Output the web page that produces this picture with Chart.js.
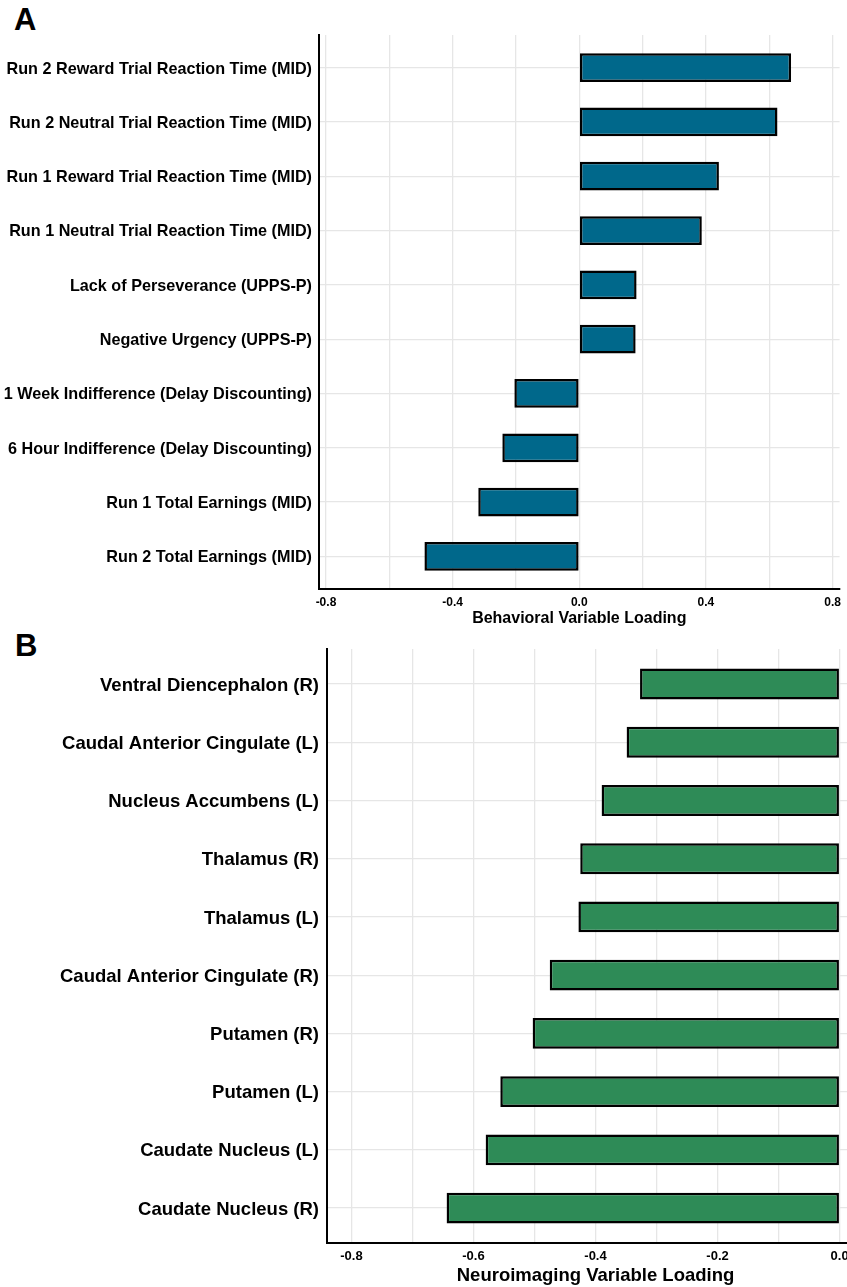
<!DOCTYPE html>
<html>
<head>
<meta charset="utf-8">
<title>Variable Loadings</title>
<script src="https://cdn.jsdelivr.net/npm/chart.js@4/dist/chart.umd.min.js"></script>
<style>
  html, body { margin: 0; padding: 0; background: #fff; }
  body { width: 847px; height: 1287px; overflow: hidden; position: relative; }
  .panel { position: absolute; left: 0; }
  .tag { position: absolute; font: bold 31px "Liberation Sans", Arial, Helvetica, sans-serif; color: #000; line-height: 1; }
</style>
</head>
<body>
<div class="tag" style="left:14px; top:4px;">A</div>
<div class="tag" style="left:15px; top:630px;">B</div>
<div class="panel" style="top:0; width:847px; height:630px;"><canvas id="chartA"></canvas></div>
<div class="panel" style="top:630px; width:880px; height:657px;"><canvas id="chartB"></canvas></div>

<script>
// Panel A: behavioral variables (listed top to bottom)
const behaviorCategories = [
  'Run 2 Reward Trial Reaction Time (MID)',
  'Run 2 Neutral Trial Reaction Time (MID)',
  'Run 1 Reward Trial Reaction Time (MID)',
  'Run 1 Neutral Trial Reaction Time (MID)',
  'Lack of Perseverance (UPPS-P)',
  'Negative Urgency (UPPS-P)',
  '1 Week Indifference (Delay Discounting)',
  '6 Hour Indifference (Delay Discounting)',
  'Run 1 Total Earnings (MID)',
  'Run 2 Total Earnings (MID)'
];
const behaviorLoadings = [0.669, 0.626, 0.441, 0.387, 0.181, 0.178, -0.205, -0.243, -0.319, -0.489];
const behaviorGridTicks = [-0.8, -0.6, -0.4, -0.2, 0.0, 0.2, 0.4, 0.6, 0.8];
const behaviorTickLabels = [-0.8, -0.4, 0.0, 0.4, 0.8];

// Panel B: neuroimaging variables (listed top to bottom)
const imagingCategories = [
  'Ventral Diencephalon (R)',
  'Caudal Anterior Cingulate (L)',
  'Nucleus Accumbens (L)',
  'Thalamus (R)',
  'Thalamus (L)',
  'Caudal Anterior Cingulate (R)',
  'Putamen (R)',
  'Putamen (L)',
  'Caudate Nucleus (L)',
  'Caudate Nucleus (R)'
];
const imagingLoadings = [-0.327, -0.349, -0.390, -0.425, -0.428, -0.475, -0.503, -0.556, -0.580, -0.644];
const imagingGridTicks = [-0.8, -0.7, -0.6, -0.5, -0.4, -0.3, -0.2, -0.1, 0.0];
const imagingTickLabels = [-0.8, -0.6, -0.4, -0.2, 0.0];

const FONT = '"Liberation Sans", Arial, Helvetica, sans-serif';
const GRID = '#e6e6e6';

function loadingChart(id, cfg) {
  const cats = cfg.categories;
  return new Chart(document.getElementById(id), {
    type: 'bar',
    data: {
      datasets: [{
        data: cfg.values.map((v, i) => ({ x: v, y: i + 1 })),
        backgroundColor: cfg.color,
        borderColor: '#000',
        borderWidth: 2.5,
        borderSkipped: false,
        barPercentage: 0.53,
        categoryPercentage: 1
      }]
    },
    options: {
      indexAxis: 'y',
      responsive: true,
      maintainAspectRatio: false,
      animation: false,
      layout: { padding: cfg.padding },
      plugins: { legend: { display: false }, tooltip: { enabled: false } },
      scales: {
        x: {
          type: 'linear',
          min: cfg.xMin,
          max: cfg.xMax,
          afterBuildTicks: s => { s.ticks = cfg.gridTicks.map(v => ({ value: v })); },
          afterFit: s => { s.height = cfg.xHeight; },
          grid: { color: GRID, lineWidth: 1.3, drawTicks: false },
          border: { display: true, color: '#000', width: 2 },
          ticks: {
            autoSkip: false,
            maxRotation: 0,
            padding: cfg.xTickPad,
            color: '#000',
            font: { family: FONT, size: cfg.xTickSize, weight: 'bold' },
            callback: v => cfg.tickLabels.some(t => Math.abs(t - v) < 1e-9) ? v.toFixed(1) : ''
          },
          title: {
            display: true,
            text: cfg.xTitle,
            color: '#000',
            font: { family: FONT, size: cfg.titleSize, weight: 'bold' },
            padding: { top: 0, bottom: cfg.titlePad }
          }
        },
        y: {
          type: 'linear',
          reverse: true,
          offset: false,
          min: 0.4,
          max: cats.length + 0.6,
          afterBuildTicks: s => { s.ticks = cats.map((c, i) => ({ value: i + 1 })); },
          afterFit: s => { s.width = cfg.yWidth; },
          grid: { color: GRID, lineWidth: 1.3, drawTicks: false, offset: false },
          border: { display: true, color: '#000', width: 2 },
          ticks: {
            autoSkip: false,
            padding: cfg.yTickPad,
            labelOffset: 1.5,
            color: '#000',
            font: { family: FONT, size: cfg.yTickSize, weight: 'bold' },
            callback: v => cats[Math.round(v) - 1]
          }
        }
      }
    }
  });
}

loadingChart('chartA', {
  categories: behaviorCategories,
  values: behaviorLoadings,
  gridTicks: behaviorGridTicks,
  tickLabels: behaviorTickLabels,
  color: '#00688B',
  xMin: -0.822, xMax: 0.822,
  xTitle: 'Behavioral Variable Loading',
  padding: { top: 35, right: 6, left: 0, bottom: 0 },
  yWidth: 319, xHeight: 41,
  xTickPad: 6, yTickPad: 7,
  xTickSize: 12, yTickSize: 16.2, titleSize: 16, titlePad: 2
});

loadingChart('chartB', {
  categories: imagingCategories,
  values: imagingLoadings,
  gridTicks: imagingGridTicks,
  tickLabels: imagingTickLabels,
  color: '#2E8B57',
  xMin: -0.84, xMax: 0.04,
  xTitle: 'Neuroimaging Variable Loading',
  padding: { top: 18, right: 16, left: 0, bottom: 0 },
  yWidth: 327, xHeight: 44,
  xTickPad: 6, yTickPad: 8,
  xTickSize: 13, yTickSize: 18.5, titleSize: 18.5, titlePad: 0
});
</script>
</body>
</html>
